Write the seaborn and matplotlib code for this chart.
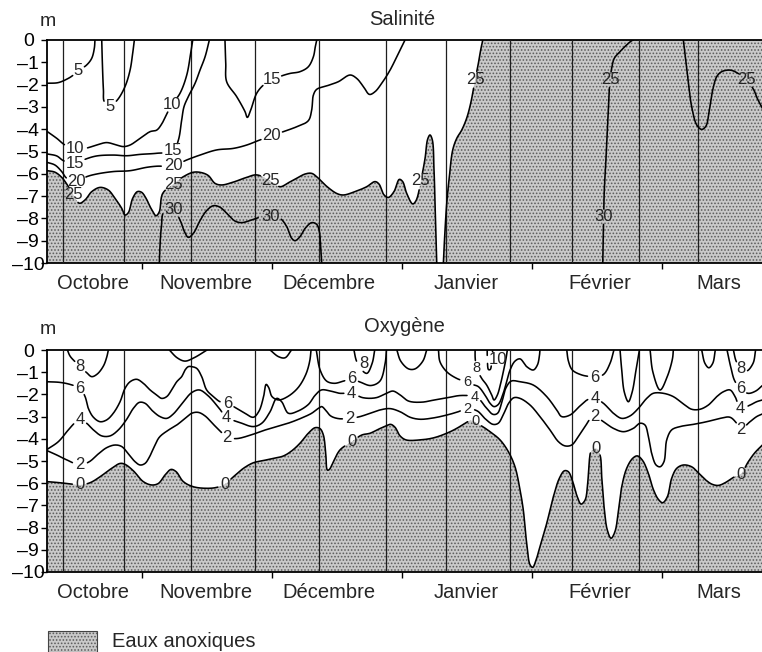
import numpy as np
import pandas as pd
import matplotlib
matplotlib.use("Agg")
import matplotlib.pyplot as plt
import matplotlib.transforms as mtransforms
from matplotlib.patches import Polygon, Rectangle
import seaborn as sns

# ---------------------------------------------------------------- axes data
MONTHS = ["Octobre", "Novembre", "Décembre", "Janvier", "Février", "Mars"]
MONTH_LABEL_X = [0.62, 1.49, 2.44, 3.49, 4.52, 5.44]
MONTH_TICKS = [1, 2, 3, 4, 5]
DEPTH_TICKS = [0, -1, -2, -3, -4, -5, -6, -7, -8, -9, -10]
XLIM = (0.269, 5.769)
SAMPLING_X = [0.39, 0.86, 1.38, 1.87, 2.36, 2.88, 3.34, 3.83, 4.31, 4.82, 5.28]

# ---------------------------------------------------------------- salinity isolines (month, depth m)
SAL_5A_X = [0.272, 0.356, 0.433, 0.472, 0.510, 0.574, 0.613, 0.633, 0.638]
SAL_5A_D = [-1.94, -1.91, -1.72, -1.57, -1.38, -1.12, -0.82, -0.37, 0.0]
SAL_5A_LAB = [(0.510, -1.38)]

SAL_5B_X = [0.690, 0.695, 0.703, 0.710, 0.754, 0.810, 0.869, 0.908, 0.928, 0.941]
SAL_5B_D = [0.0, -1.05, -2.24, -2.77, -2.96, -2.69, -2.09, -1.35, -0.60, 0.0]
SAL_5B_LAB = [(0.754, -2.96)]

SAL_10_X = [0.272, 0.344, 0.408, 0.485, 0.562, 0.651, 0.728, 0.805, 0.856, 0.908, 0.985, 1.062,
            1.113, 1.151, 1.190, 1.228, 1.292, 1.344, 1.374, 1.390]
SAL_10_D = [-4.11, -4.41, -4.71, -4.86, -4.86, -4.71, -4.60, -4.71, -4.78, -4.71, -4.41, -4.11,
            -4.04, -3.77, -3.32, -2.91, -2.39, -1.57, -0.60, 0.0]
SAL_10_LAB = [(0.485, -4.86), (1.228, -2.91)]

SAL_15A_X = [0.272, 0.344, 0.395, 0.485, 0.562, 0.651, 0.779, 0.882, 0.985, 1.113, 1.241, 1.280,
             1.305, 1.323, 1.356, 1.408, 1.446, 1.485, 1.518]
SAL_15A_D = [-5.11, -5.20, -5.41, -5.56, -5.35, -5.20, -5.16, -5.19, -5.13, -5.08, -4.97, -4.48,
             -3.59, -2.99, -2.54, -1.94, -1.35, -0.75, 0.0]
SAL_15A_LAB = [(0.485, -5.56), (1.241, -4.97)]

SAL_15B_X = [1.638, 1.644, 1.651, 1.728, 1.792, 1.810, 1.836, 1.882, 1.934, 1.997, 2.074, 2.138,
             2.215, 2.279, 2.318, 2.333, 2.344]
SAL_15B_D = [0.0, -1.05, -1.87, -2.54, -3.21, -3.47, -3.14, -2.39, -2.02, -1.79, -1.61, -1.50,
             -1.42, -1.20, -0.75, -0.30, 0.0]
SAL_15B_LAB = [(1.997, -1.79)]

SAL_20_X = [0.272, 0.331, 0.382, 0.421, 0.497, 0.574, 0.651, 0.779, 0.908, 1.036, 1.113, 1.241,
            1.344, 1.446, 1.574, 1.703, 1.805, 1.908, 1.997, 2.087, 2.190, 2.279, 2.305, 2.318,
            2.344, 2.420, 2.510, 2.600, 2.651, 2.703, 2.749, 2.792, 2.844, 2.908, 2.972, 3.023]
SAL_20_D = [-5.49, -5.61, -5.90, -6.20, -6.35, -6.13, -6.01, -5.90, -5.86, -5.71, -5.66, -5.64,
            -5.38, -5.16, -4.93, -4.86, -4.71, -4.48, -4.30, -4.11, -3.89, -3.62, -3.14, -2.47,
            -2.21, -2.06, -1.87, -1.57, -1.72, -2.09, -2.44, -2.32, -1.94, -1.35, -0.60, 0.0]
SAL_20_LAB = [(0.497, -6.35), (1.241, -5.64), (1.997, -4.30)]

SAL_25A_X = [0.272, 0.331, 0.382, 0.421, 0.472, 0.518, 0.562, 0.613, 0.677, 0.741, 0.792, 0.844,
             0.869, 0.895, 0.928, 0.964, 0.997, 1.031, 1.069, 1.108, 1.133, 1.159, 1.241, 1.318,
             1.395, 1.459, 1.510, 1.562, 1.613, 1.703, 1.805, 1.882, 1.985, 2.062, 2.126, 2.190,
             2.254, 2.305, 2.349, 2.408, 2.497, 2.549, 2.638, 2.728, 2.792, 2.823, 2.862, 2.895,
             2.938, 2.979, 3.005, 3.036, 3.082, 3.108, 3.151, 3.177, 3.197, 3.215, 3.233, 3.246,
             3.256, 3.267]
SAL_25A_D = [-5.86, -5.93, -6.16, -6.46, -6.95, -7.32, -7.17, -6.80, -6.61, -6.73, -7.10, -7.55,
             -7.85, -7.74, -7.10, -6.80, -6.83, -7.10, -7.55, -7.88, -7.70, -6.88, -6.46, -6.13,
             -5.93, -5.95, -6.08, -6.43, -6.50, -6.37, -6.16, -6.05, -6.31, -6.58, -6.40, -6.20,
             -6.01, -5.98, -6.16, -6.50, -6.88, -6.95, -6.80, -6.58, -6.35, -6.46, -6.95, -7.06,
             -6.80, -6.25, -6.35, -6.88, -7.35, -7.20, -6.13, -5.31, -4.45, -4.26, -4.48, -5.83,
             -7.77, -10.0]
SAL_25A_LAB = [(0.472, -6.95), (1.241, -6.46), (1.985, -6.31), (3.138, -6.31)]

SAL_25B_X = [3.318, 3.328, 3.344, 3.364, 3.390, 3.421, 3.459, 3.497, 3.528, 3.562, 3.587, 3.605, 3.621]
SAL_25B_D = [-10.0, -8.82, -7.32, -6.13, -4.93, -4.41, -4.04, -3.51, -2.84, -1.79, -1.05, -0.45, 0.0]
SAL_25B_LAB = [(3.562, -1.79)]

SAL_30A_X = [1.133, 1.138, 1.149, 1.169, 1.241, 1.292, 1.326, 1.356, 1.395, 1.446, 1.497, 1.549,
             1.600, 1.664, 1.715, 1.767, 1.844, 1.908, 1.985, 2.062, 2.113, 2.151, 2.177, 2.215,
             2.254, 2.305, 2.344, 2.364, 2.374, 2.382]
SAL_30A_D = [-10.0, -9.27, -8.37, -7.70, -7.62, -8.07, -8.59, -8.85, -8.67, -8.10, -7.65, -7.43,
             -7.50, -7.85, -8.12, -8.19, -8.07, -7.95, -7.92, -8.00, -8.37, -8.89, -9.00, -8.82,
             -8.45, -8.19, -8.27, -8.59, -9.27, -10.0]
SAL_30A_LAB = [(1.241, -7.62), (1.985, -7.92)]

SAL_30B_X = [4.544, 4.547, 4.551, 4.556, 4.567, 4.577, 4.587, 4.600, 4.615, 4.633, 4.677, 4.728, 4.767, 4.779]
SAL_30B_D = [-10.0, -9.12, -7.92, -6.73, -5.53, -4.33, -3.14, -1.79, -1.20, -0.82, -0.52, -0.22, -0.03, 0.0]
SAL_30B_LAB_30 = [(4.551, -7.92)]
SAL_30B_LAB_25 = [(4.600, -1.79)]

SAL_25C_X = [5.164, 5.182, 5.203, 5.228, 5.267, 5.305, 5.338, 5.364, 5.390, 5.421, 5.459, 5.523,
             5.574, 5.646, 5.703, 5.733, 5.772]
SAL_25C_D = [0.0, -0.90, -1.94, -2.99, -3.81, -4.01, -3.86, -3.14, -2.24, -1.64, -1.42, -1.35,
             -1.46, -1.79, -2.21, -2.62, -3.06]
SAL_25C_LAB = [(5.646, -1.79)]

# ---------------------------------------------------------------- oxygen isolines (month, depth m)
OXY_0_X = [0.272, 0.369, 0.459, 0.523, 0.600, 0.677, 0.754, 0.831, 0.869, 0.933,
           1.010, 1.074, 1.126, 1.177, 1.223, 1.262, 1.318, 1.395, 1.497, 1.574,
           1.638, 1.703, 1.780, 1.856, 1.933, 2.010, 2.085, 2.150, 2.215, 2.279,
           2.331, 2.369, 2.395, 2.413, 2.426, 2.441, 2.472, 2.523, 2.613, 2.690,
           2.754, 2.818, 2.877, 2.913, 2.946, 2.985, 3.031, 3.138, 3.241, 3.344,
           3.421, 3.485, 3.531, 3.600, 3.677, 3.754, 3.818, 3.869, 3.908, 3.933,
           3.959, 3.985, 4.005, 4.031, 4.061, 4.113, 4.164, 4.210, 4.249, 4.279,
           4.313, 4.343, 4.377, 4.408, 4.428, 4.441, 4.454, 4.492, 4.523, 4.536,
           4.554, 4.579, 4.608, 4.638, 4.664, 4.690, 4.728, 4.774, 4.810, 4.851,
           4.895, 4.933, 4.972, 5.005, 5.041, 5.074, 5.113, 5.164, 5.228, 5.279,
           5.331, 5.382, 5.433, 5.485, 5.549, 5.605, 5.664, 5.715, 5.772]
OXY_0_D = [-5.93, -5.98, -6.04, -6.08, -5.98, -5.71, -5.38, -5.11, -5.15, -5.44,
           -5.93, -6.08, -6.01, -5.63, -5.38, -5.48, -5.93, -6.16, -6.23, -6.19,
           -6.04, -5.71, -5.33, -5.08, -4.98, -4.88, -4.78, -4.55, -4.20, -3.75,
           -3.50, -3.54, -3.83, -4.65, -5.41, -5.38, -5.03, -4.50, -4.13, -3.83,
           -3.75, -3.57, -3.42, -3.35, -3.48, -3.87, -4.05, -4.05, -3.96, -3.75,
           -3.53, -3.30, -3.18, -3.38, -3.68, -4.05, -4.58, -5.26, -6.31, -7.21,
           -8.71, -9.68, -9.79, -9.46, -8.86, -7.81, -6.61, -5.78, -5.44, -5.48,
           -5.93, -6.53, -6.94, -6.76, -6.01, -4.95, -4.58, -4.43, -4.73, -5.71,
           -7.06, -8.11, -8.48, -8.18, -7.28, -6.16, -5.33, -4.88, -4.77, -4.98,
           -5.56, -6.28, -6.73, -6.88, -6.61, -5.78, -5.33, -5.18, -5.26, -5.53,
           -5.83, -6.04, -6.10, -5.98, -5.74, -5.59, -5.03, -4.62, -4.28]
OXY_0_LAB = [(0.523, -6.08), (1.638, -6.04), (2.613, -4.13), (3.562, -3.22), (4.492, -4.43), (5.605, -5.59)]

OXY_2_X = [0.272, 0.344, 0.421, 0.523, 0.595, 0.664, 0.728, 0.792, 0.844, 0.895, 0.946, 0.985,
           1.023, 1.056, 1.092, 1.133, 1.197, 1.267, 1.331, 1.382, 1.433, 1.485, 1.549, 1.600,
           1.656, 1.728, 1.831, 1.933, 2.036,
           2.138, 2.241, 2.305, 2.356, 2.382, 2.415, 2.451, 2.510, 2.600, 2.677, 2.754, 2.831,
           2.908, 2.985, 3.062, 3.138, 3.241, 3.344, 3.433, 3.500,
           3.580, 3.640, 3.700, 3.740, 3.780, 3.820, 3.860,
           3.908, 3.985, 4.061, 4.138, 4.203, 4.254, 4.305, 4.356, 4.408, 4.446,
           4.485, 4.549, 4.626, 4.703, 4.779, 4.831, 4.869, 4.895, 4.920, 4.954,
           4.985, 5.015, 5.036, 5.074, 5.138, 5.241, 5.344, 5.446, 5.523, 5.574,
           5.605, 5.677, 5.728, 5.772]
OXY_2_D = [-4.54, -4.73, -4.95, -5.18, -5.03, -4.68, -4.40, -4.28, -4.35, -4.68, -5.03, -5.18,
           -5.11, -4.83, -4.38, -3.93, -3.63, -3.38, -3.08, -2.85, -2.81, -2.97, -3.35, -3.65,
           -3.93, -3.99, -3.84, -3.63, -3.45,
           -3.27, -3.03, -2.85, -2.63, -2.55, -2.73, -2.97, -3.09, -3.08, -3.00, -2.85, -2.70,
           -2.64, -2.78, -3.03, -3.12, -3.06, -2.93, -2.78, -2.64,
           -2.75, -3.10, -3.35, -3.30, -2.90, -2.40, -2.15,
           -2.18, -2.48, -3.00, -3.60, -4.13, -4.32, -4.28, -3.90, -3.45, -3.12,
           -3.00, -3.23, -3.53, -3.68, -3.53, -3.30, -3.38, -3.90, -4.65, -5.18,
           -5.26, -5.03, -4.05, -3.60, -3.45, -3.35, -3.23, -3.08, -3.03, -3.30,
           -3.56, -3.23, -3.00, -2.88]
OXY_2_LAB = [(0.523, -5.18), (1.656, -3.93), (2.600, -3.08), (3.500, -2.64), (4.485, -3.00), (5.605, -3.56)]

OXY_4_X = [0.272, 0.356, 0.433, 0.485, 0.523, 0.574, 0.626, 0.690, 0.754, 0.818, 0.882, 0.933,
           0.979, 1.023, 1.082, 1.138, 1.190, 1.241, 1.313, 1.382, 1.441, 1.510, 1.587, 1.651,
           1.754, 1.856, 1.921, 1.985, 2.036, 2.074, 2.126,
           2.200, 2.280, 2.330, 2.380, 2.450, 2.520, 2.613, 2.700, 2.800, 2.880, 2.930, 2.980,
           3.050, 3.150, 3.250, 3.350, 3.450, 3.560, 3.600, 3.640, 3.700, 3.735, 3.770, 3.800, 3.840,
           3.908, 4.010, 4.113, 4.190, 4.228, 4.292, 4.369, 4.433, 4.485, 4.549, 4.626, 4.690,
           4.754, 4.818, 4.882, 4.933, 5.010, 5.087, 5.164, 5.228, 5.292, 5.356, 5.421, 5.472,
           5.523, 5.562, 5.605, 5.677, 5.728, 5.772]
OXY_4_D = [-4.47, -4.13, -3.60, -3.27, -3.12, -3.30, -3.60, -3.87, -3.87, -3.60, -3.12, -2.63,
           -2.36, -2.40, -2.75, -3.00, -3.08, -2.88, -2.37, -1.92, -1.80, -2.07, -2.58, -3.03,
           -3.27, -3.45, -3.30, -2.78, -2.18, -2.33, -2.85,
           -2.75, -2.45, -2.05, -1.80, -1.85, -1.95, -1.95, -2.15, -2.15, -1.95, -1.85, -2.00,
           -2.30, -2.35, -2.25, -2.15, -2.05, -2.10, -2.25, -2.55, -2.90, -2.85, -2.30, -1.70, -1.40,
           -1.43, -1.58, -2.10, -2.70, -3.00, -2.93, -2.52, -2.22, -2.18, -2.40, -2.85, -3.08,
           -2.97, -2.63, -2.18, -1.95, -1.95, -2.10, -2.43, -2.67, -2.67, -2.48, -2.10, -1.88,
           -1.80, -2.10, -2.63, -2.48, -2.33, -2.25]
OXY_4_LAB = [(0.523, -3.12), (1.651, -3.03), (2.613, -1.95), (3.560, -2.10), (4.485, -2.18), (5.605, -2.63)]

OXY_6A_X = [0.272, 0.369, 0.446, 0.523, 0.562, 0.587, 0.626, 0.677, 0.728, 0.779,
            0.831, 0.869, 0.908, 0.959, 1.010, 1.062, 1.113, 1.151, 1.190, 1.228,
            1.267, 1.305, 1.331, 1.356, 1.382, 1.421, 1.459, 1.497, 1.549, 1.600,
            1.656, 1.728, 1.792, 1.856, 1.900, 1.935, 1.955, 1.975, 2.000, 2.050,
            2.120, 2.200, 2.260, 2.290, 2.300]
OXY_6A_D = [-1.43, -1.46, -1.55, -1.73, -2.10, -2.63, -3.03, -3.23, -3.15, -2.85,
            -2.33, -1.73, -1.43, -1.32, -1.50, -1.80, -2.03, -2.18, -2.10, -1.80,
            -1.43, -1.20, -0.90, -0.75, -0.75, -0.83, -1.20, -1.80, -2.10, -2.33,
            -2.40, -2.63, -2.85, -3.03, -2.75, -2.10, -1.55, -1.70, -2.10, -2.25,
            -2.10, -1.70, -1.10, -0.50, 0.0]
OXY_6A_LAB = [(0.523, -1.73), (1.656, -2.40)]

OXY_6B_X = [2.340, 2.370, 2.420, 2.480, 2.550, 2.613, 2.680, 2.760, 2.830, 2.870, 2.880]
OXY_6B_D = [0.0, -0.90, -1.40, -1.50, -1.40, -1.30, -1.45, -1.60, -1.40, -0.60, 0.0]
OXY_6B_LAB = [(2.613, -1.30)]

OXY_6C_X = [2.960, 2.990, 3.050, 3.100, 3.160, 3.190]
OXY_6C_D = [0.0, -0.50, -0.85, -0.85, -0.50, 0.0]

OXY_6D_X = [3.280, 3.292, 3.344, 3.421, 3.500, 3.540, 3.587, 3.638, 3.677, 3.708, 3.741,
            3.774, 3.805, 3.831, 3.869, 3.908, 3.959, 4.010, 4.041, 4.056, 4.061]
OXY_6D_D = [0.0, -0.53, -0.98, -1.28, -1.45, -1.55, -1.65, -2.03, -2.40, -2.55, -2.45,
            -2.03, -1.43, -0.90, -0.50, -0.40, -0.75, -0.90, -0.68, -0.30, 0.0]
OXY_6D_LAB = [(3.500, -1.45)]

OXY_6E_X = [4.267, 4.280, 4.310, 4.380, 4.450, 4.485, 4.550, 4.600, 4.630]
OXY_6E_D = [0.0, -0.50, -0.90, -1.12, -1.20, -1.22, -1.10, -0.60, 0.0]
OXY_6E_LAB = [(4.485, -1.22)]

OXY_6F_X = [4.677, 4.690, 4.710, 4.741, 4.770, 4.800, 4.826]
OXY_6F_D = [0.0, -0.90, -1.90, -2.33, -1.90, -0.90, 0.0]

OXY_6G_X = [4.908, 4.930, 4.985, 5.040, 5.080, 5.087]
OXY_6G_D = [0.0, -1.00, -1.80, -1.20, -0.40, 0.0]

OXY_6H_X = [5.500, 5.530, 5.560, 5.605, 5.660, 5.720, 5.772]
OXY_6H_D = [0.0, -0.80, -1.40, -1.73, -1.95, -1.85, -1.60]
OXY_6H_LAB = [(5.605, -1.73)]

OXY_8A_X = [0.426, 0.446, 0.485, 0.523, 0.574, 0.613, 0.656, 0.703, 0.728, 0.741]
OXY_8A_D = [0.0, -0.27, -0.53, -0.75, -1.02, -1.20, -1.08, -0.72, -0.33, 0.0]
OXY_8A_LAB = [(0.523, -0.75)]

OXY_8B_X = [1.210, 1.270, 1.330, 1.400, 1.500]
OXY_8B_D = [0.0, -0.35, -0.50, -0.35, 0.0]

OXY_8C_X = [1.985, 2.050, 2.100, 2.150]
OXY_8C_D = [0.0, -0.30, -0.35, 0.0]

OXY_8D_X = [2.630, 2.650, 2.690, 2.730, 2.770, 2.790]
OXY_8D_D = [0.0, -0.50, -0.90, -1.05, -0.60, 0.0]
OXY_8D_LAB = [(2.703, -0.62)]

OXY_8E_X = [3.562, 3.563, 3.574, 3.613, 3.651, 3.690, 3.708, 3.733, 3.759, 3.779, 3.800, 3.810]
OXY_8E_D = [0.0, -0.38, -0.83, -1.28, -1.58, -2.03, -2.25, -2.03, -1.50, -0.98, -0.38, 0.0]
OXY_8E_LAB = [(3.574, -0.83)]

OXY_8F_X = [5.305, 5.330, 5.360, 5.390, 5.410]
OXY_8F_D = [0.0, -0.60, -0.80, -0.60, 0.0]

OXY_8G_X = [5.549, 5.570, 5.605, 5.650, 5.700, 5.720]
OXY_8G_D = [0.0, -0.50, -0.83, -0.95, -0.60, 0.0]
OXY_8G_LAB = [(5.605, -0.83)]

OXY_10_X = [3.655, 3.657, 3.665, 3.678, 3.690, 3.697]
OXY_10_D = [0.0, -0.55, -0.88, -0.88, -0.55, 0.0]
OXY_10_LAB = [(3.735, -0.41)]

# ---------------------------------------------------------------- style
sns.set_theme(style="white")
plt.rcParams["font.family"] = ["Liberation Sans", "DejaVu Sans"]
plt.rcParams["hatch.linewidth"] = 0.75

SHADE_FACE = "#c9c9c9"
SHADE_DOTS = "#5c5c5c"
SHADE_HATCH = "....."
LABEL_SIZE = 12
CLUSTER_SIZE = 10.5

fig = plt.figure(figsize=(7.62, 6.52), dpi=100)
ax_sal = fig.add_axes([47 / 762, 1 - 263 / 652, 715 / 762, 223 / 652])
ax_oxy = fig.add_axes([47 / 762, 1 - 572 / 652, 715 / 762, 222 / 652])


def catmull_rom(P, n=14):
    """Centripetal Catmull-Rom curve through the points P (pixel space)."""
    P = np.asarray(P, float)
    if len(P) < 3:
        return P
    ext = np.vstack([2 * P[0] - P[1], P, 2 * P[-1] - P[-2]])
    out = [P[:1]]
    for i in range(len(P) - 1):
        p0, p1, p2, p3 = ext[i], ext[i + 1], ext[i + 2], ext[i + 3]
        t0 = 0.0
        t1 = t0 + max(np.hypot(*(p1 - p0)), 1e-3) ** 0.5
        t2 = t1 + max(np.hypot(*(p2 - p1)), 1e-3) ** 0.5
        t3 = t2 + max(np.hypot(*(p3 - p2)), 1e-3) ** 0.5
        t = np.linspace(t1, t2, n + 1)[1:, None]
        a1 = (t1 - t) / (t1 - t0) * p0 + (t - t0) / (t1 - t0) * p1
        a2 = (t2 - t) / (t2 - t1) * p1 + (t - t1) / (t2 - t1) * p2
        a3 = (t3 - t) / (t3 - t2) * p2 + (t - t2) / (t3 - t2) * p3
        b1 = (t2 - t) / (t2 - t0) * a1 + (t - t0) / (t2 - t0) * a2
        b2 = (t3 - t) / (t3 - t1) * a2 + (t - t1) / (t3 - t1) * a3
        out.append((t2 - t) / (t2 - t1) * b1 + (t - t1) / (t2 - t1) * b2)
    return np.vstack(out)


def setup_axes(ax):
    ax.set_xlim(*XLIM)
    ax.set_ylim(-10, 0)
    for side in ("left", "top", "bottom"):
        ax.spines[side].set_visible(True)
        ax.spines[side].set_color("black")
        ax.spines[side].set_linewidth(1.3)
    ax.spines["right"].set_visible(False)
    ax.set_yticks(DEPTH_TICKS, labels=[("–" + str(-v)) if v < 0 else "0" for v in DEPTH_TICKS])
    ax.set_xticks(MONTH_TICKS, labels=[])
    ax.tick_params(axis="y", direction="out", length=4.5, width=1, labelsize=14, pad=9,
                   left=True, colors="black")
    ax.tick_params(axis="x", direction="out", length=4.5, width=1, bottom=True, colors="black")
    for t in ax.get_yticklabels():
        t.set_horizontalalignment("center")
    ax.grid(False)
    ax.set_facecolor("white")
    trans = mtransforms.blended_transform_factory(ax.transData, ax.transAxes)
    for xm, name in zip(MONTH_LABEL_X, MONTHS):
        ax.text(xm, -0.094, name, transform=trans, ha="center", va="center", fontsize=14.5)


def smooth_curve(ax, xs, ds):
    pix = ax.transData.transform(np.column_stack([xs, ds]))
    return catmull_rom(pix)


def shade(ax, pix_poly):
    data = ax.transData.inverted().transform(pix_poly)
    ax.add_patch(Polygon(data, closed=True, facecolor=SHADE_FACE, edgecolor=SHADE_DOTS,
                         hatch=SHADE_HATCH, linewidth=0, zorder=1))


def isoline(ax, xs, ds, label_groups, size=LABEL_SIZE):
    dense = smooth_curve(ax, xs, ds)
    keep = np.ones(len(dense), bool)
    scale = size / LABEL_SIZE
    for text, labs in label_groups:
        for lx, ly in labs:
            cx, cy = ax.transData.transform((lx, ly))
            rx, ry = (4.6 * len(text) + 2.5) * scale, 7.5 * scale
            keep &= ((dense[:, 0] - cx) / rx) ** 2 + ((dense[:, 1] - cy) / ry) ** 2 > 1
    seg = np.cumsum(~keep)
    data = ax.transData.inverted().transform(dense)
    df = pd.DataFrame({"x": data[keep, 0], "d": data[keep, 1], "seg": seg[keep]})
    sns.lineplot(data=df, x="x", y="d", units="seg", estimator=None, sort=False,
                 color="black", linewidth=1.15, ax=ax, legend=False, zorder=4)
    for text, labs in label_groups:
        for lx, ly in labs:
            # labels crowded in the January convergence get a smaller face
            fs = CLUSTER_SIZE if 3.45 < lx < 3.6 and ax is ax_oxy else size
            ax.text(lx, ly, text, ha="center", va="center", fontsize=fs, zorder=5)
    return dense


for ax in (ax_sal, ax_oxy):
    setup_axes(ax)

# ---------------------------------------------------------------- anoxic shading
x0_pix = ax_sal.transData.transform((XLIM[0], -10))
x1_pix = ax_sal.transData.transform((XLIM[1], -10))
top_right = ax_sal.transData.transform((XLIM[1], 0))

c25a = smooth_curve(ax_sal, SAL_25A_X, SAL_25A_D)
shade(ax_sal, np.vstack([ax_sal.transData.transform((XLIM[0], SAL_25A_D[0])), c25a, x0_pix]))
c25b = smooth_curve(ax_sal, SAL_25B_X, SAL_25B_D)
shade(ax_sal, np.vstack([c25b, top_right, x1_pix]))

c0 = smooth_curve(ax_oxy, OXY_0_X, OXY_0_D)
shade(ax_oxy, np.vstack([ax_oxy.transData.transform((XLIM[0], OXY_0_D[0])), c0,
                         ax_oxy.transData.transform((XLIM[1], -10)),
                         ax_oxy.transData.transform((XLIM[0], -10))]))

# ---------------------------------------------------------------- sampling dates
for ax in (ax_sal, ax_oxy):
    for xs in SAMPLING_X:
        ax.axvline(xs, color="#1e1e1e", linewidth=0.9, zorder=3)

# ---------------------------------------------------------------- salinity isolines
isoline(ax_sal, SAL_5A_X, SAL_5A_D, [("5", SAL_5A_LAB)])
isoline(ax_sal, SAL_5B_X, SAL_5B_D, [("5", SAL_5B_LAB)])
isoline(ax_sal, SAL_10_X, SAL_10_D, [("10", SAL_10_LAB)])
isoline(ax_sal, SAL_15A_X, SAL_15A_D, [("15", SAL_15A_LAB)])
isoline(ax_sal, SAL_15B_X, SAL_15B_D, [("15", SAL_15B_LAB)])
isoline(ax_sal, SAL_20_X, SAL_20_D, [("20", SAL_20_LAB)])
isoline(ax_sal, SAL_25A_X, SAL_25A_D, [("25", SAL_25A_LAB)])
isoline(ax_sal, SAL_25B_X, SAL_25B_D, [("25", SAL_25B_LAB)])
isoline(ax_sal, SAL_30A_X, SAL_30A_D, [("30", SAL_30A_LAB)])
isoline(ax_sal, SAL_30B_X, SAL_30B_D, [("30", SAL_30B_LAB_30), ("25", SAL_30B_LAB_25)])
isoline(ax_sal, SAL_25C_X, SAL_25C_D, [("25", SAL_25C_LAB)])

# ---------------------------------------------------------------- oxygen isolines
isoline(ax_oxy, OXY_0_X, OXY_0_D, [("0", OXY_0_LAB)])
isoline(ax_oxy, OXY_2_X, OXY_2_D, [("2", OXY_2_LAB)])
isoline(ax_oxy, OXY_4_X, OXY_4_D, [("4", OXY_4_LAB)])
isoline(ax_oxy, OXY_6A_X, OXY_6A_D, [("6", OXY_6A_LAB)])
isoline(ax_oxy, OXY_6B_X, OXY_6B_D, [("6", OXY_6B_LAB)])
isoline(ax_oxy, OXY_6C_X, OXY_6C_D, [])
isoline(ax_oxy, OXY_6D_X, OXY_6D_D, [("6", OXY_6D_LAB)])
isoline(ax_oxy, OXY_6E_X, OXY_6E_D, [("6", OXY_6E_LAB)])
isoline(ax_oxy, OXY_6F_X, OXY_6F_D, [])
isoline(ax_oxy, OXY_6G_X, OXY_6G_D, [])
isoline(ax_oxy, OXY_6H_X, OXY_6H_D, [("6", OXY_6H_LAB)])
isoline(ax_oxy, OXY_8A_X, OXY_8A_D, [("8", OXY_8A_LAB)])
isoline(ax_oxy, OXY_8B_X, OXY_8B_D, [])
isoline(ax_oxy, OXY_8C_X, OXY_8C_D, [])
isoline(ax_oxy, OXY_8D_X, OXY_8D_D, [("8", OXY_8D_LAB)])
isoline(ax_oxy, OXY_8E_X, OXY_8E_D, [("8", OXY_8E_LAB)])
isoline(ax_oxy, OXY_8F_X, OXY_8F_D, [])
isoline(ax_oxy, OXY_8G_X, OXY_8G_D, [("8", OXY_8G_LAB)])
isoline(ax_oxy, OXY_10_X, OXY_10_D, [("10", OXY_10_LAB)])

for ax in (ax_sal, ax_oxy):
    ax.set_xlabel("")
    ax.set_ylabel("")
    ax.set_xlim(*XLIM)
    ax.set_ylim(-10, 0)

# ---------------------------------------------------------------- titles, units, key
fig.text(402 / 762, 1 - 25 / 652, "Salinité", ha="center", va="baseline", fontsize=14.5)
fig.text(404 / 762, 1 - 332 / 652, "Oxygène", ha="center", va="baseline", fontsize=14.5)
fig.text(48 / 762, 1 - 26 / 652, "m", ha="center", va="baseline", fontsize=14)
fig.text(48 / 762, 1 - 334 / 652, "m", ha="center", va="baseline", fontsize=14)

fig.add_artist(Rectangle((48 / 762, 0), 49 / 762, 21 / 652, transform=fig.transFigure,
                         facecolor=SHADE_FACE, edgecolor=SHADE_DOTS, hatch=SHADE_HATCH,
                         linewidth=0))
fig.add_artist(Rectangle((48 / 762, 0), 49 / 762, 21 / 652, transform=fig.transFigure,
                         facecolor="none", edgecolor="#444444", linewidth=0.8))
fig.text(112 / 762, 1 - 647 / 652, "Eaux anoxiques", ha="left", va="baseline", fontsize=14.5)

fig.savefig("out.png", dpi=100)
